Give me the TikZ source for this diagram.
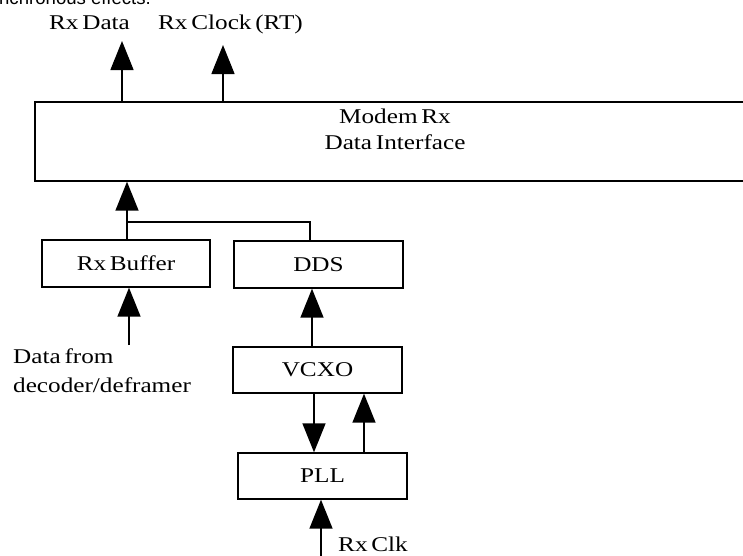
\documentclass[tikz,border=0pt]{standalone}
\usepackage{fontspec}
\setmainfont{Liberation Serif}[FakeStretch=1.2,WordSpace=0.6]
\newfontfamily\topsans{Liberation Sans}
\usetikzlibrary{arrows.meta}
\begin{document}
\begin{tikzpicture}[x=1pt,y=-1pt,
  blk/.style={draw,line width=1.4pt,inner sep=0pt,minimum width=169pt,minimum height=46pt,
    font=\fontsize{21}{26}\selectfont},
  lbl/.style={inner sep=0pt,font=\fontsize{21}{26}\selectfont},
  wire/.style={line width=1.5pt},
  arr/.style={line width=1.5pt,-{Triangle[length=29pt,width=23pt]}}]
\useasboundingbox (0,0) rectangle (743,555);
\clip (0,0) rectangle (743,555);
% cropped caption text at top
\node[anchor=base east,inner sep=0pt,font=\topsans\fontsize{18.6}{22}\selectfont] (cap) at (151,4.5) {synchronous effects.};
% main interface box
\node[draw,line width=1.4pt,minimum width=720pt,minimum height=79pt,inner sep=0pt] (modem) at (395,141.5) {};
\node[lbl,align=center,anchor=base] (modemlbl) at (395,149) {Modem Rx\\Data Interface};
% output labels
\node[lbl,anchor=base] (rxdata) at (89.5,29) {Rx Data};
\node[lbl,anchor=base] (rxclock) at (230.5,29) {Rx Clock (RT)};
\coordinate (rxdtip) at (122,41);
\coordinate (rxctip) at (223,45);
\draw[arr] (rxdtip |- modem.north) -- (rxdtip);
\draw[arr] (rxctip |- modem.north) -- (rxctip);
% blocks
\node[blk,minimum width=168pt,minimum height=47pt] (rxbuf) at (126,263.5) {Rx Buffer};
\node[blk,minimum height=47pt] (dds) at (318.5,264.5) {DDS};
\node[blk] (vcxo) at (317.5,370) {VCXO};
\node[blk] (pll) at (322.5,476) {PLL};
% junction to interface
\coordinate (j) at (127,222);
\coordinate (jd) at (310,222);
\draw[arr] (rxbuf.north -| j) -- (j |- modem.south);
\draw[wire] (j) -- (jd) -- (jd |- dds.north);
% data input
\coordinate (dfrom) at (129,345);
\draw[arr] (dfrom) -- (dfrom |- rxbuf.south);
\node[lbl,align=left,anchor=base west,font=\fontsize{21}{29}\selectfont] (dlbl) at (13,392) {Data from\\decoder/deframer};
% VCXO to DDS
\draw[arr] ([xshift=-5.5pt]vcxo.north) -- ([xshift=-5.5pt]vcxo.north |- dds.south);
% VCXO <-> PLL
\draw[arr] ([xshift=-3.5pt]vcxo.south) -- ([xshift=-3.5pt]vcxo.south |- pll.north);
\draw[arr] ([xshift=41.5pt]pll.north) -- ([xshift=41.5pt]pll.north |- vcxo.south);
% Rx Clk input
\coordinate (clkin) at (321,557);
\draw[arr] (clkin) -- (clkin |- pll.south);
\node[lbl,anchor=base west] (clklbl) at (338,551) {Rx Clk};
\end{tikzpicture}
\end{document}
